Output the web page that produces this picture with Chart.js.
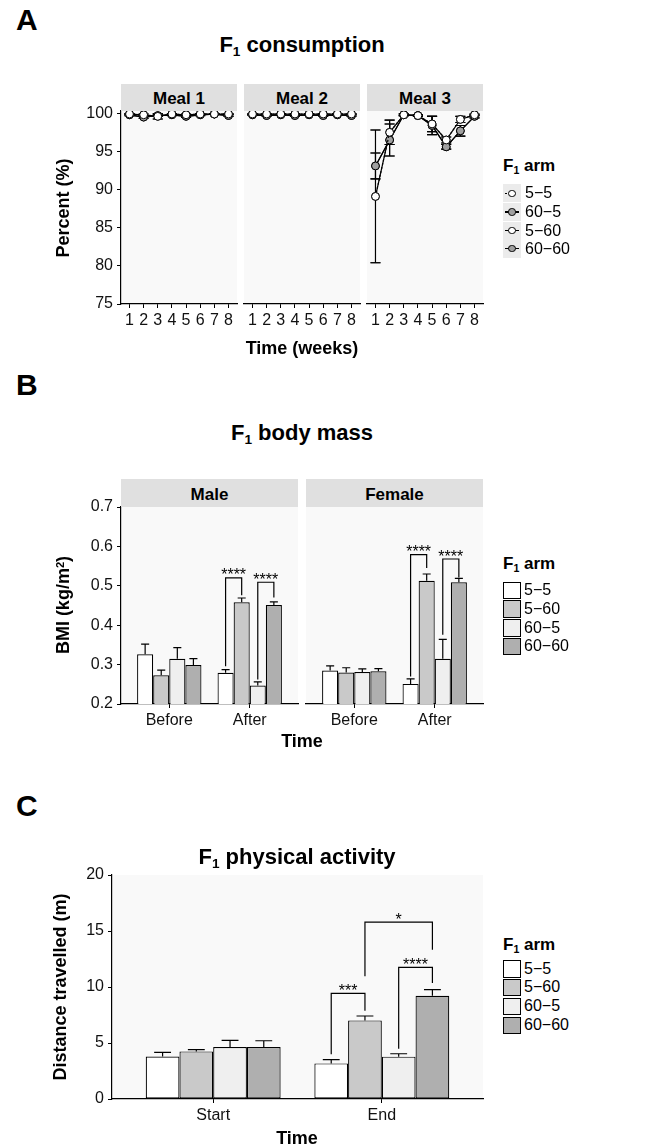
<!DOCTYPE html>
<html>
<head>
<meta charset="utf-8">
<title>F1 consumption, body mass and physical activity</title>
<script src="https://cdn.jsdelivr.net/npm/chart.js@4.4.1/dist/chart.umd.min.js"></script>
<style>
html,body{margin:0;padding:0;background:#fff;}
body{position:relative;width:650px;height:1147px;overflow:hidden;font-family:"Liberation Sans",Arial,Helvetica,sans-serif;color:#000;}
.t{position:absolute;white-space:nowrap;line-height:1;}
.sb{position:relative;top:0.28em;font-size:0.62em;}
.sp{position:relative;top:-0.42em;font-size:0.62em;}
canvas{position:absolute;}
.strip{position:absolute;background:#e0e0e0;}
.k{position:absolute;box-sizing:border-box;}
</style>
</head>
<body>
<script>
// ======================= DATA =======================
// Panel A - F1 consumption (% eaten), weekly mean and SE per meal and arm
const weeks = [1, 2, 3, 4, 5, 6, 7, 8];
const percentTicks = [75, 80, 85, 90, 95, 100];
const meals = ['Meal 1', 'Meal 2', 'Meal 3'];
const armsA = ['5−5', '60−5', '5−60', '60−60'];

const meal1_5_5     = [99.9, 99.8, 99.6, 99.9, 99.8, 99.9, 99.9, 99.9];
const meal1_5_5_se  = [0.05, 0.10, 0.35, 0.05, 0.10, 0.05, 0.05, 0.05];
const meal1_60_5    = [99.8, 99.5, 99.7, 99.8, 99.6, 99.8, 99.9, 99.7];
const meal1_60_5_se = [0.10, 0.15, 0.10, 0.10, 0.15, 0.10, 0.05, 0.10];
const meal1_5_60    = [99.9, 99.8, 99.6, 99.9, 99.8, 99.9, 99.9, 99.9];
const meal1_5_60_se = [0.05, 0.10, 0.35, 0.05, 0.10, 0.05, 0.05, 0.05];
const meal1_60_60    = [99.8, 99.5, 99.7, 99.8, 99.6, 99.8, 99.9, 99.7];
const meal1_60_60_se = [0.10, 0.15, 0.10, 0.10, 0.15, 0.10, 0.05, 0.10];

const meal2_5_5     = [99.9, 99.9, 99.9, 99.9, 99.9, 99.9, 99.9, 99.9];
const meal2_5_5_se  = [0.05, 0.05, 0.05, 0.05, 0.05, 0.05, 0.05, 0.05];
const meal2_60_5    = [99.8, 99.7, 99.8, 99.7, 99.8, 99.7, 99.8, 99.7];
const meal2_60_5_se = [0.08, 0.08, 0.08, 0.08, 0.08, 0.08, 0.08, 0.08];
const meal2_5_60    = [99.9, 99.9, 99.9, 99.9, 99.9, 99.9, 99.9, 99.9];
const meal2_5_60_se = [0.05, 0.05, 0.05, 0.05, 0.05, 0.05, 0.05, 0.05];
const meal2_60_60    = [99.8, 99.7, 99.8, 99.7, 99.8, 99.7, 99.8, 99.7];
const meal2_60_60_se = [0.08, 0.08, 0.08, 0.08, 0.08, 0.08, 0.08, 0.08];

const meal3_5_5     = [89.1, 97.5, 99.8, 99.7, 98.6, 96.5, 99.2, 99.8];
const meal3_5_5_se  = [8.7, 1.6, 0.1, 0.1, 1.0, 0.4, 0.4, 0.1];
const meal3_60_5    = [93.1, 96.5, 99.8, 99.7, 98.4, 95.6, 97.7, 99.6];
const meal3_60_5_se = [1.7, 2.1, 0.1, 0.1, 1.2, 0.3, 0.7, 0.2];
const meal3_5_60    = [89.1, 97.5, 99.8, 99.7, 98.6, 96.5, 99.2, 99.8];
const meal3_5_60_se = [8.7, 1.6, 0.1, 0.1, 1.0, 0.4, 0.4, 0.1];
const meal3_60_60    = [93.1, 96.5, 99.8, 99.7, 98.4, 95.6, 97.7, 99.6];
const meal3_60_60_se = [1.7, 2.1, 0.1, 0.1, 1.2, 0.3, 0.7, 0.2];

// Panel B - F1 body mass (BMI, kg/m2), mean and SE
const bmiTimes = ['Before', 'After'];
const bmiTicks = [0.2, 0.3, 0.4, 0.5, 0.6, 0.7];
const sexes = ['Male', 'Female'];
const armsBar = ['5−5', '5−60', '60−5', '60−60'];

const male_5_5      = [0.326, 0.279];
const male_5_5_se   = [0.026, 0.008];
const male_5_60     = [0.273, 0.458];
const male_5_60_se  = [0.013, 0.011];
const male_60_5     = [0.315, 0.247];
const male_60_5_se  = [0.028, 0.009];
const male_60_60    = [0.299, 0.451];
const male_60_60_se = [0.016, 0.008];

const female_5_5      = [0.285, 0.251];
const female_5_5_se   = [0.012, 0.013];
const female_5_60     = [0.280, 0.513];
const female_5_60_se  = [0.012, 0.017];
const female_60_5     = [0.281, 0.315];
const female_60_5_se  = [0.008, 0.049];
const female_60_60    = [0.283, 0.509];
const female_60_60_se = [0.007, 0.010];

// significance brackets (data units): arm indices, group index, leg heights
const sigMale = [
  { group: 1, from: 0, to: 1, yFrom: 0.296, yTop: 0.520, yTo: 0.476, label: '****' },
  { group: 1, from: 2, to: 3, yFrom: 0.262, yTop: 0.509, yTo: 0.470, label: '****' }
];
const sigFemale = [
  { group: 1, from: 0, to: 1, yFrom: 0.270, yTop: 0.579, yTo: 0.545, label: '****' },
  { group: 1, from: 2, to: 3, yFrom: 0.376, yTop: 0.568, yTo: 0.521, label: '****' }
];

// Panel C - F1 physical activity (distance travelled, m), mean and SE
const actTimes = ['Start', 'End'];
const distTicks = [0, 5, 10, 15, 20];
const act_5_5      = [3.80, 3.18];
const act_5_5_se   = [0.36, 0.33];
const act_5_60     = [4.25, 7.02];
const act_5_60_se  = [0.15, 0.39];
const act_60_5     = [4.64, 3.78];
const act_60_5_se  = [0.59, 0.26];
const act_60_60    = [4.64, 9.22];
const act_60_60_se = [0.56, 0.54];
const sigAct = [
  { group: 1, from: 0, to: 1, yFrom: 4.00, yTop: 9.43, yTo: 7.88, label: '***' },
  { group: 1, from: 2, to: 3, yFrom: 4.49, yTop: 11.75, yTo: 10.36, label: '****' },
  { group: 1, from: 1, to: 3, yFrom: 10.95, yTop: 15.80, yTo: 13.33, label: '*' }
];

// ======================= STYLE / HELPERS =======================
const FONT = '"Liberation Sans", Arial, Helvetica, sans-serif';
Chart.defaults.font.family = FONT;
Chart.defaults.color = '#111';
const INK = '#000';
const PANEL_BG = '#f9f9f9';
const fillA = ['#ffffff', '#a0a0a0', '#ffffff', '#a0a0a0'];
const dashA = [[2, 2], [], [], []];
const fillBar = ['#ffffff', '#c9c9c9', '#efefef', '#afafaf'];

function addText(html, x, y, size, o = {}) {
  const d = document.createElement('div');
  d.className = 't';
  d.innerHTML = html;
  d.style.fontSize = size + 'px';
  if (o.bold) d.style.fontWeight = 'bold';
  d.style.left = x + 'px';
  d.style.top = y + 'px';
  const tx = o.align === 'left' ? '0' : '-50%';
  d.style.transform = 'translate(' + tx + ',-50%)' + (o.rotate ? ' rotate(-90deg)' : '');
  document.body.appendChild(d);
  return d;
}
function addStrip(label, l, r, t, b) {
  const d = document.createElement('div');
  d.className = 'strip';
  d.style.left = l + 'px'; d.style.top = t + 'px';
  d.style.width = (r - l) + 'px'; d.style.height = (b - t) + 'px';
  document.body.appendChild(d);
  addText(label, (l + r) / 2, (t + b) / 2 + 0.5, 17, { bold: true });
}
function makeCanvas(plot, pad) {
  const c = document.createElement('canvas');
  const w = plot.r - plot.l + pad.l + pad.r;
  const h = plot.b - plot.t + pad.t + pad.b;
  c.width = w; c.height = h;
  c.style.width = w + 'px'; c.style.height = h + 'px';
  c.style.left = (plot.l - pad.l) + 'px';
  c.style.top = (plot.t - pad.t) + 'px';
  document.body.appendChild(c);
  return c;
}
function xAxis(min, max, tickVals, labelFn, xh) {
  return {
    type: 'linear', min: min, max: max, offset: false,
    afterBuildTicks: s => { s.ticks = tickVals.map(v => ({ value: v })); },
    afterFit: s => { s.height = xh; },
    ticks: { font: { size: 16 }, color: '#111', padding: 3, maxRotation: 0, minRotation: 0, autoSkip: false, callback: labelFn },
    grid: { display: true, offset: false, drawOnChartArea: false, drawTicks: true, tickLength: 4, tickWidth: 1, tickColor: INK, color: INK, lineWidth: 1 },
    border: { display: true, color: INK, width: 1.2 }
  };
}
function yAxis(min, max, tickVals, labelFn, show, yw) {
  return {
    type: 'linear', min: min, max: max, display: show,
    afterBuildTicks: s => { s.ticks = tickVals.map(v => ({ value: v })); },
    afterFit: s => { s.width = show ? yw : 0; },
    ticks: { font: { size: 16 }, color: '#111', padding: 4, autoSkip: false, callback: labelFn },
    grid: { display: true, drawOnChartArea: false, drawTicks: true, tickLength: 4, tickWidth: 1, tickColor: INK, color: INK, lineWidth: 1 },
    border: { display: true, color: INK, width: 1.2 }
  };
}
function baseOptions(pad, scales) {
  return {
    responsive: false, animation: false, devicePixelRatio: 1, events: [],
    layout: { padding: pad },
    plugins: { legend: { display: false }, tooltip: { enabled: false }, title: { display: false } },
    scales: scales
  };
}
const panelBg = {
  id: 'panelBg',
  beforeDraw(c) {
    const a = c.chartArea, ctx = c.ctx;
    ctx.save(); ctx.fillStyle = PANEL_BG;
    ctx.fillRect(a.left, a.top, a.right - a.left, a.bottom - a.top);
    ctx.restore();
  }
};
// symmetric error bars for the line panels (drawn beneath the points)
const errorBarsLine = {
  id: 'errorBarsLine',
  beforeDatasetsDraw(c) {
    const ctx = c.ctx, xs = c.scales.x, ys = c.scales.y;
    ctx.save(); ctx.strokeStyle = INK; ctx.lineWidth = 1.1;
    c.data.datasets.forEach(ds => {
      ds.data.forEach((d, i) => {
        const e = ds.errs[i];
        const x = xs.getPixelForValue(d.x);
        const y1 = ys.getPixelForValue(d.y - e), y2 = ys.getPixelForValue(d.y + e);
        ctx.beginPath();
        ctx.moveTo(x, y1); ctx.lineTo(x, y2);
        ctx.moveTo(x - 5, y1); ctx.lineTo(x + 5, y1);
        ctx.moveTo(x - 5, y2); ctx.lineTo(x + 5, y2);
        ctx.stroke();
      });
    });
    ctx.restore();
  }
};
// upper error bars on bars
const errorBarsBar = {
  id: 'errorBarsBar',
  afterDatasetsDraw(c) {
    const ctx = c.ctx, ys = c.scales.y;
    ctx.save(); ctx.strokeStyle = '#000'; ctx.lineWidth = 1.2;
    c.data.datasets.forEach((ds, di) => {
      const meta = c.getDatasetMeta(di);
      meta.data.forEach((el, i) => {
        const top = ys.getPixelForValue(ds.data[i].y + ds.errs[i]);
        const hw = el.width / 4;
        ctx.beginPath();
        ctx.moveTo(el.x, el.y); ctx.lineTo(el.x, top);
        ctx.moveTo(el.x - hw, top); ctx.lineTo(el.x + hw, top);
        ctx.stroke();
      });
    });
    ctx.restore();
  }
};
function bracketPlugin(items) {
  return {
    id: 'brackets',
    afterDatasetsDraw(c) {
      const ctx = c.ctx, ys = c.scales.y;
      ctx.save(); ctx.strokeStyle = '#000'; ctx.lineWidth = 1.2; ctx.fillStyle = '#000';
      ctx.font = '16px ' + FONT; ctx.textAlign = 'center'; ctx.textBaseline = 'alphabetic';
      items.forEach(b => {
        const xa = c.getDatasetMeta(b.from).data[b.group].x;
        const xb = c.getDatasetMeta(b.to).data[b.group].x;
        const ya = ys.getPixelForValue(b.yFrom), yt = ys.getPixelForValue(b.yTop), yb = ys.getPixelForValue(b.yTo);
        ctx.beginPath();
        ctx.moveTo(xa, ya); ctx.lineTo(xa, yt); ctx.lineTo(xb, yt); ctx.lineTo(xb, yb);
        ctx.stroke();
        ctx.fillText(b.label, (xa + xb) / 2, yt + 2.5);
      });
      ctx.restore();
    }
  };
}

// ======================= PANEL A =======================
const mealData = [
  [[meal1_5_5, meal1_5_5_se], [meal1_60_5, meal1_60_5_se], [meal1_5_60, meal1_5_60_se], [meal1_60_60, meal1_60_60_se]],
  [[meal2_5_5, meal2_5_5_se], [meal2_60_5, meal2_60_5_se], [meal2_5_60, meal2_5_60_se], [meal2_60_60, meal2_60_60_se]],
  [[meal3_5_5, meal3_5_5_se], [meal3_60_5, meal3_60_5_se], [meal3_5_60, meal3_5_60_se], [meal3_60_60, meal3_60_60_se]]
];
const plotsA = [{ l: 121, t: 111, r: 237, b: 304 }, { l: 244, t: 111, r: 360, b: 304 }, { l: 367, t: 111, r: 483, b: 304 }];
const YW = 60, XH = 36;
plotsA.forEach((p, m) => {
  const show = m === 0;
  const pad = { l: show ? YW : 6, t: 16, r: 6, b: XH + 4 };
  const cv = makeCanvas(p, pad);
  new Chart(cv, {
    type: 'line',
    data: {
      datasets: armsA.map((a, i) => ({
        label: a,
        data: weeks.map((w, j) => ({ x: w, y: mealData[m][i][0][j] })),
        errs: mealData[m][i][1],
        borderColor: INK, borderWidth: 1.2, borderDash: dashA[i],
        pointRadius: 3.9, pointBorderWidth: 1, pointBorderColor: INK, pointBackgroundColor: fillA[i],
        tension: 0, clip: false, fill: false
      }))
    },
    options: baseOptions({ left: pad.l - (show ? YW : 0), top: pad.t, right: pad.r, bottom: pad.b - XH }, {
      x: xAxis(0.4, 8.6, weeks, v => String(v), XH),
      y: yAxis(75, 100.3, percentTicks, v => String(v), show, YW)
    }),
    plugins: [panelBg, errorBarsLine]
  });
  addStrip(meals[m], p.l, p.r, 84, 111);
});

// ======================= PANEL B =======================
const sexData = [
  [[male_5_5, male_5_5_se], [male_5_60, male_5_60_se], [male_60_5, male_60_5_se], [male_60_60, male_60_60_se]],
  [[female_5_5, female_5_5_se], [female_5_60, female_5_60_se], [female_60_5, female_60_5_se], [female_60_60, female_60_60_se]]
];
const sigSex = [sigMale, sigFemale];
const plotsB = [{ l: 121, t: 507, r: 298, b: 704 }, { l: 306, t: 507, r: 483, b: 704 }];
function barDatasets(groups, cats) {
  return armsBar.map((a, i) => ({
    label: a,
    data: cats.map((c, j) => ({ x: j + 1, y: groups[i][0][j] })),
    errs: groups[i][1],
    backgroundColor: fillBar[i], borderColor: '#000', borderWidth: 1.2, borderSkipped: false,
    categoryPercentage: 0.8, barPercentage: 1.0
  }));
}
plotsB.forEach((p, s) => {
  const show = s === 0;
  const pad = { l: show ? YW : 6, t: 16, r: 6, b: XH + 4 };
  const cv = makeCanvas(p, pad);
  new Chart(cv, {
    type: 'bar',
    data: { datasets: barDatasets(sexData[s], bmiTimes) },
    options: baseOptions({ left: pad.l - (show ? YW : 0), top: pad.t, right: pad.r, bottom: pad.b - XH }, {
      x: xAxis(0.4, 2.6, [1, 2], v => bmiTimes[v - 1], XH),
      y: yAxis(0.2, 0.7, bmiTicks, v => v.toFixed(1), show, YW)
    }),
    plugins: [panelBg, errorBarsBar, bracketPlugin(sigSex[s])]
  });
  addStrip(sexes[s], p.l, p.r, 479, 507);
});

// ======================= PANEL C =======================
const actData = [[act_5_5, act_5_5_se], [act_5_60, act_5_60_se], [act_60_5, act_60_5_se], [act_60_60, act_60_60_se]];
const plotC = { l: 112, t: 875, r: 483, b: 1099 };
(function () {
  const pad = { l: YW, t: 16, r: 6, b: XH + 4 };
  const cv = makeCanvas(plotC, pad);
  new Chart(cv, {
    type: 'bar',
    data: { datasets: barDatasets(actData, actTimes) },
    options: baseOptions({ left: 0, top: pad.t, right: pad.r, bottom: pad.b - XH }, {
      x: xAxis(0.4, 2.6, [1, 2], v => actTimes[v - 1], XH),
      y: yAxis(0, 20, distTicks, v => String(v), true, YW)
    }),
    plugins: [panelBg, errorBarsBar, bracketPlugin(sigAct)]
  });
})();

// ======================= TEXT & LEGENDS =======================
addText('A', 16, 20, 30, { bold: true, align: 'left' });
addText('B', 16, 385, 30, { bold: true, align: 'left' });
addText('C', 16, 806, 30, { bold: true, align: 'left' });
addText('F<span class="sb">1</span> consumption', 302, 45, 22, { bold: true });
addText('F<span class="sb">1</span> body mass', 302, 433, 22, { bold: true });
addText('F<span class="sb">1</span> physical activity', 297, 857, 22, { bold: true });
addText('Percent (%)', 63, 208, 18, { bold: true, rotate: true });
addText('Time (weeks)', 302, 348, 18, { bold: true });
addText('BMI (kg/m<span class="sp">2</span>)', 63, 605, 18, { bold: true, rotate: true });
addText('Time', 302, 741, 18, { bold: true });
addText('Distance travelled (m)', 60, 987, 18, { bold: true, rotate: true });
addText('Time', 297, 1138, 18, { bold: true });

function keyDiv(l, t, w, h, css) {
  const d = document.createElement('div');
  d.className = 'k';
  d.style.left = l + 'px'; d.style.top = t + 'px'; d.style.width = w + 'px'; d.style.height = h + 'px';
  Object.assign(d.style, css);
  document.body.appendChild(d);
  return d;
}
// legend A (point + line keys)
(function () {
  const x = 503, centers = [193.3, 212, 230.5, 248.8];
  addText('F<span class="sb">1</span> arm', x, 165, 17, { bold: true, align: 'left' });
  armsA.forEach((a, i) => {
    const c = centers[i];
    keyDiv(x, c - 9, 18, 18, { background: '#ebebeb' });
    if (i === 0) {
      keyDiv(x + 2, c - 0.5, 2, 1.2, { background: INK });
    } else {
      keyDiv(x + 2, c - 0.6, 14, 1.2, { background: INK });
    }
    keyDiv(x + 9 - 3.7, c - 3.7, 7.4, 7.4, { border: '1px solid #000', borderRadius: '50%', background: fillA[i] });
    addText(a, x + 22, c, 16, { align: 'left' });
  });
})();
// legends B and C (filled boxes)
function legendBoxes(titleY, centers) {
  const x = 503;
  addText('F<span class="sb">1</span> arm', x, titleY, 17, { bold: true, align: 'left' });
  armsBar.forEach((a, i) => {
    const c = centers[i];
    keyDiv(x, c - 8.5, 17.5, 17.5, { border: '1.2px solid #000', background: fillBar[i] });
    addText(a, x + 21, c, 16, { align: 'left' });
  });
}
legendBoxes(563.3, [590, 608.5, 627.5, 646]);
legendBoxes(944, [968.5, 987, 1006, 1025]);
</script>
</body>
</html>
